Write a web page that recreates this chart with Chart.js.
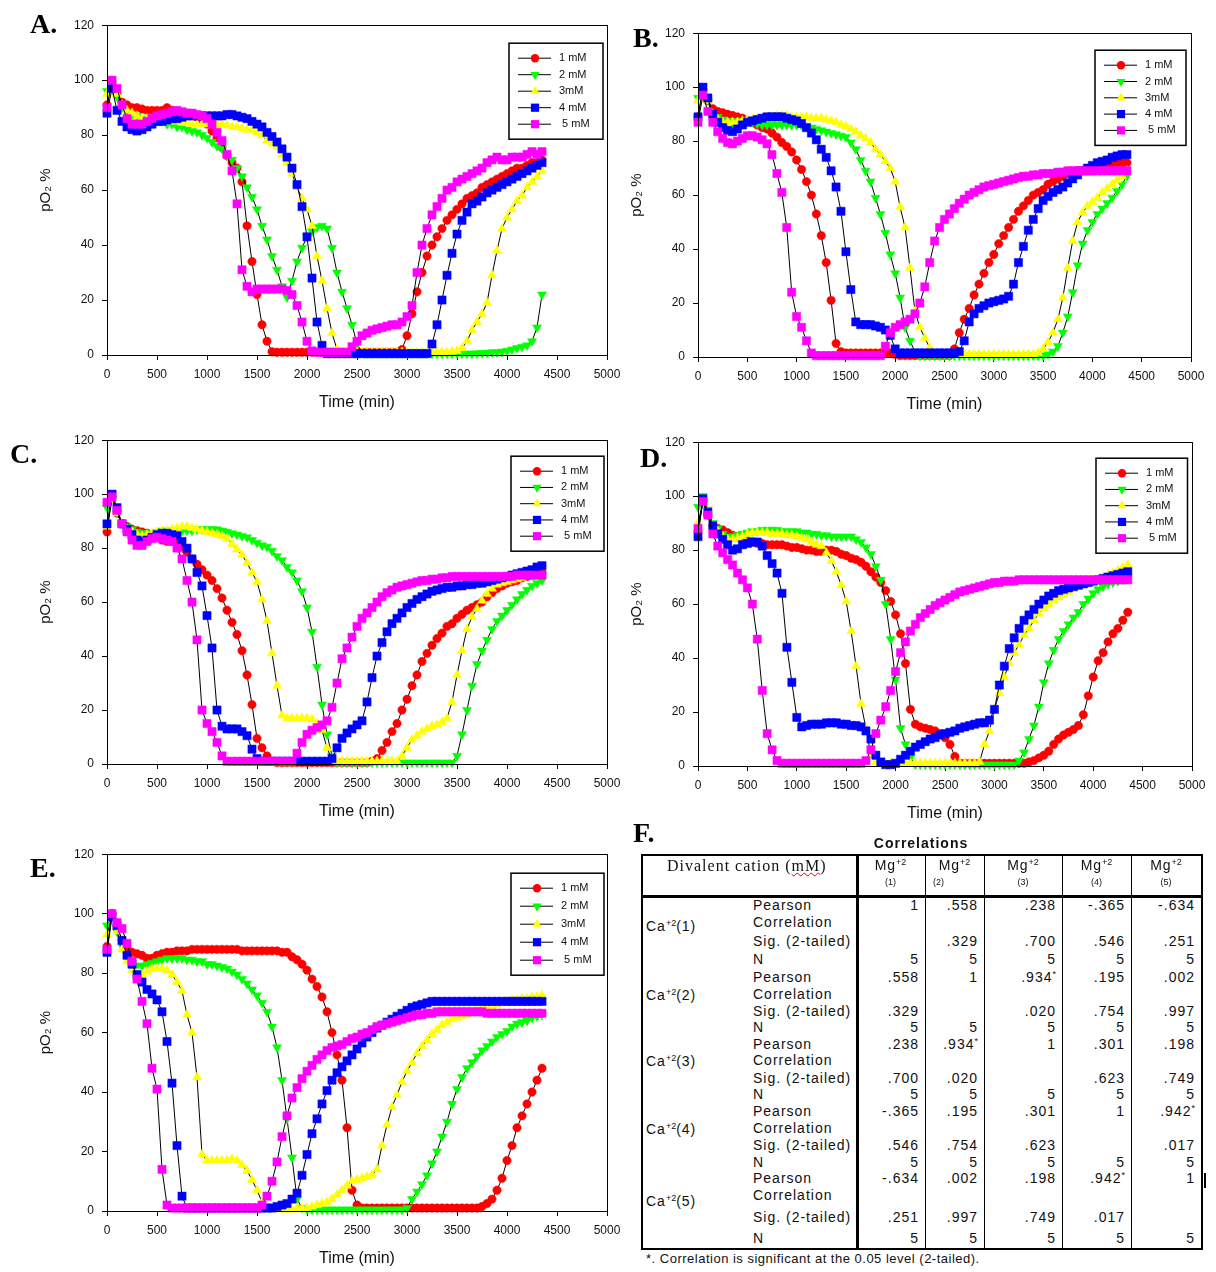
<!DOCTYPE html>
<html>
<head>
<meta charset="utf-8">
<title>pO2 time courses and correlations</title>
<script src="https://cdn.jsdelivr.net/npm/chart.js@4.4.0/dist/chart.umd.min.js"></script>
<style>
  body { margin: 0; background: #fff; width: 1216px; height: 1272px; position: relative; overflow: hidden;
         font-family: "Liberation Sans", Arial, sans-serif; color: #111; }
  canvas { position: absolute; }
  .tag { position: absolute; font: bold 28px "Liberation Serif", "Times New Roman", serif; line-height: 28px; color: #000; }
  .t { position: absolute; white-space: pre; font-size: 14px; line-height: 16px; letter-spacing: 1px; color: #111; }
  .t sup { font-size: 9px; vertical-align: 5px; line-height: 0; letter-spacing: 0; }
  .t.small { font-size: 9px; letter-spacing: 0; }
  .t.head { font: 16px "Liberation Serif", "Times New Roman", serif; letter-spacing: 1px; line-height: 16px; }
  .t.title { font-weight: bold; }
  .t.note { font-size: 13px; letter-spacing: 0.5px; }
  .ln { position: absolute; background: #000; }
</style>
</head>
<body>
<script>
// sampling times (min) shared by every series
const times = [
  0, 50, 100, 150, 200, 250, 300, 350, 400, 450,
  500, 550, 600, 650, 700, 750, 800, 850, 900, 950,
  1000, 1050, 1100, 1150, 1200, 1250, 1300, 1350, 1400, 1450,
  1500, 1550, 1600, 1650, 1700, 1750, 1800, 1850, 1900, 1950,
  2000, 2050, 2100, 2150, 2200, 2250, 2300, 2350, 2400, 2450,
  2500, 2550, 2600, 2650, 2700, 2750, 2800, 2850, 2900, 2950,
  3000, 3050, 3100, 3150, 3200, 3250, 3300, 3350, 3400, 3450,
  3500, 3550, 3600, 3650, 3700, 3750, 3800, 3850, 3900, 3950,
  4000, 4050, 4100, 4150, 4200, 4250, 4300, 4350
];

const seriesLabels = ['1 mM', '2 mM', '3mM', '4 mM', ' 5 mM'];

// ---- panel A: pO2 %
const a1mM = [
  91, 99, 95, 92, 91, 90, 90, 89.5, 89, 89,
  89, 89, 90, 89, 88.5, 88, 88, 87.5, 86.5, 85.5,
  84, 81.5, 79, 75.5, 72.5, 70, 68, 63, 47, 34,
  22, 11, 5, 1.2, 1, 1, 1, 1, 1, 1,
  1, 1, 1, 1, 1, 1, 1, 1, 1, 1,
  1, 1, 1, 1, 1, 1, 1, 1, 1, 2,
  7, 15, 23, 30, 36, 40, 43, 46, 49, 51,
  53, 55, 57, 58, 59, 61, 62, 63, 64, 65,
  66, 67, 68, 68, 69, 70, 70, 71
];
const a2mM = [
  96, 99, 94, 90, 88, 87, 87, 86, 86, 86,
  85, 85, 84, 84, 83, 83, 82, 81.5, 81, 80,
  79, 77.5, 76, 75, 72.5, 71, 68, 65, 61, 57.5,
  53, 47, 42, 36, 31, 25, 21, 27, 34, 39,
  43, 45, 46.5, 47, 46, 39, 30, 23, 17, 11,
  4, 1, 0.5, 0.5, 0.5, 0.5, 0.5, 0.5, 0.5, 0.5,
  0.5, 0.5, 0.5, 0.5, 0.5, 0.5, 0.5, 0.5, 0.5, 0.5,
  0.5, 0.5, 0.5, 0.5, 0.6, 0.7, 0.8, 1, 1, 1.2,
  1.5, 2, 2.5, 3, 3.5, 5, 10, 22
];
const a3mM = [
  95, 99, 95, 91, 89, 88, 87, 86, 86, 85.5,
  85, 85, 85, 85, 85, 84.5, 84.5, 84, 84, 84,
  84, 84, 84, 84, 83.5, 83, 83, 82.5, 82, 82,
  81, 80, 78, 77, 76, 73, 70, 66, 61, 57,
  53, 47, 36, 27, 17, 8, 2, 1, 1, 1,
  1, 1, 1, 1, 1, 1, 1, 1, 1, 1,
  1, 1, 1, 1, 1, 1, 1, 1, 1, 1.2,
  1.5, 2.5, 5, 9, 12, 15, 19, 29, 38, 46,
  50, 53, 56, 58, 61, 63, 65, 67
];
const a4mM = [
  88, 97, 89, 85, 83, 82, 81.5, 82, 83, 84,
  85, 85, 85.5, 86, 86, 86.5, 87, 87, 87, 87,
  87, 87, 87, 87, 87.5, 87.5, 87, 86.5, 86, 85,
  84, 83, 81, 79.5, 77.5, 75, 72, 68, 62, 54,
  43, 28, 12, 3.5, 0.5, 0.5, 0.5, 0.5, 0.5, 0.5,
  0.5, 0.5, 0.5, 0.5, 0.5, 0.5, 0.5, 0.5, 0.5, 0.5,
  0.5, 0.5, 0.5, 0.5, 0.5, 4, 11, 20, 29, 37,
  44, 49, 52, 55, 56, 57.5, 59, 60, 61, 62,
  63, 64, 65, 66, 67, 68, 69, 70
];
const a5mM = [
  90, 100, 97, 91, 86, 84, 84, 84, 85, 86,
  87, 87.5, 88, 88.5, 89, 88.5, 88, 88, 87.5, 87,
  86, 84, 81, 78, 73, 67, 55, 31, 25, 23,
  24, 24, 24, 24, 24, 24, 23.5, 22, 18, 12,
  5, 1.5, 1, 1, 1, 1, 1, 1, 1, 3,
  5, 7, 8, 9, 9.5, 10, 10.5, 11, 11, 12,
  14, 18, 30, 40, 46, 51, 54, 57, 60, 61,
  63, 64, 65, 66, 67, 68, 70, 71, 72, 71,
  71, 72, 72, 72, 73, 74, 73, 74
];

// ---- panel B
const b1mM = [
  89, 99, 95, 92, 91, 90.5, 90, 89.5, 89, 88.5,
  87.5, 87, 86, 85, 84.5, 83, 81.5, 79.5, 78, 76,
  73, 69.5, 65, 60, 53, 45, 35, 21, 5, 2,
  1.5, 1.5, 1.5, 1.5, 1.5, 1.5, 1.5, 1.5, 1.5, 1.5,
  1, 0.5, 0.5, 0.5, 0.5, 0.5, 0.5, 0.5, 0.5, 0.5,
  0.5, 0.5, 3, 9, 14, 18, 23, 27, 31, 35,
  38, 42, 45, 48, 51, 54, 56, 58, 60, 61,
  62, 64, 65, 66, 67, 68, 68, 69, 69, 69,
  69, 70, 70, 70, 71, 72, 72, 72
];
const b2mM = [
  96, 100, 95, 90, 89, 88, 87.5, 87, 87.5, 87.5,
  87.5, 87, 86.5, 86, 86, 86, 86, 86, 86, 86,
  86, 86, 85.5, 85, 84.5, 84, 83.5, 83, 82.5, 82,
  81.5, 79.5, 77, 73, 69, 65, 59, 53, 46, 38,
  31, 22, 11, 6, 2, 0.5, 0.5, 0.5, 0.5, 0.5,
  0.5, 0.5, 0.5, 0.5, 0.5, 0.5, 0.5, 0.5, 0.5, 0.5,
  0.5, 0.5, 0.5, 0.5, 0.5, 0.5, 0.5, 0.5, 0.5, 0.5,
  0.5, 1, 2, 4, 9, 15, 24, 34, 42, 47,
  50, 53, 55, 57, 59, 61.5, 64, 67
];
const b3mM = [
  95, 99, 95, 90, 88, 87, 87, 87, 87, 87.5,
  88, 88, 88.5, 88.5, 89, 89, 89.5, 89.5, 89.5, 89,
  89, 89, 89, 88.5, 88.5, 88.5, 88, 87.5, 87, 86,
  85.5, 84.5, 83.5, 82, 81, 79.5, 77, 75, 72.5, 70,
  65, 55.5, 48, 33, 17, 11, 7, 3.5, 1, 1,
  1, 1, 1, 1, 1, 1, 1, 1, 1, 1,
  1, 1, 1, 1, 1, 1, 1, 1, 1, 1.5,
  3, 5.5, 9, 14, 22, 33, 43, 50, 53.5, 56,
  57.5, 59, 61, 62.5, 64, 65.5, 67, 69
];
const b4mM = [
  89, 100, 96, 90, 87, 85, 84, 83.5, 84.5, 86,
  87, 87.5, 88, 88.5, 89, 89, 89, 89, 88.5, 88,
  87.5, 86.5, 85, 83, 80.5, 77, 74, 69, 63, 54,
  39, 25, 13, 12, 12, 12, 11.5, 11, 10, 8,
  3, 1.5, 1.5, 1.5, 1.5, 1.5, 1.5, 1.5, 1.5, 1.5,
  1.5, 1.5, 1.5, 2, 6, 13, 16, 18, 19, 20,
  20.5, 21, 21.5, 22.5, 27, 35, 41, 47, 51, 55,
  58, 59.5, 61, 62, 63, 64.5, 66, 67.5, 69, 70,
  71, 72, 72.5, 73, 74, 74.5, 75, 75
];
const b5mM = [
  87, 97, 91, 87, 83.5, 81, 79.5, 79, 80, 81,
  82, 82, 81.5, 80.5, 79, 75, 68, 61, 48, 24,
  15, 11, 6, 1.5, 0.5, 0.5, 0.5, 0.5, 0.5, 0.5,
  0.5, 0.5, 0.5, 0.5, 0.5, 0.5, 0.5, 0.5, 4, 9,
  11, 12, 13, 14, 16, 20, 26, 35, 43, 48,
  51, 53, 55, 57, 58.5, 60, 61, 62, 63, 63.5,
  64, 64.5, 65, 65.5, 66, 66.5, 67, 67, 67.5, 67.5,
  68, 68, 68, 68.5, 68.5, 69, 69, 69, 69, 69,
  69, 69, 69, 69, 69, 69, 69, 69
];

// ---- panel C
const c1mM = [
  86, 99, 93, 89, 88, 87, 86.5, 86, 85.5, 85,
  84, 83, 82.5, 82.5, 82, 80.5, 78.5, 76, 74, 72,
  70, 68, 65, 61.5, 57, 52.5, 48, 42, 33, 22,
  9.5, 6, 3, 1, 0.5, 0.5, 0.5, 0.5, 0.5, 0.5,
  0.5, 0.5, 0.5, 0.5, 0.5, 0.5, 0.5, 0.5, 0.5, 0.5,
  0.5, 0.5, 0.5, 1, 2, 5, 8, 12, 15, 20,
  24, 29, 33, 38, 41, 44, 46.5, 48.5, 51, 52,
  54, 55.5, 57, 58, 59, 60, 62, 63.5, 65, 66,
  67, 67.5, 68, 69, 69.5, 70, 70.5, 71
];
const c2mM = [
  95, 100, 93, 89, 88, 87, 86, 85.5, 85.5, 85.5,
  86, 86.5, 86.5, 86.5, 86.5, 86.5, 86.5, 86.5, 87, 87,
  87, 87, 87, 86.5, 86, 85.5, 85, 84.5, 84, 83,
  82, 81, 80.5, 79, 77, 75.5, 73, 71, 68, 64,
  58, 49, 36, 22, 11, 3, 0.5, 0.5, 0.5, 0.5,
  0.5, 0.5, 0.5, 0.5, 0.5, 0.5, 0.5, 0.5, 0.5, 0.5,
  0.5, 0.5, 0.5, 0.5, 0.5, 0.5, 0.5, 0.5, 0.5, 0.5,
  3, 11, 20, 29, 37, 42, 46, 50, 53, 55,
  57, 59, 61, 63, 64.5, 66, 67, 68
];
const c3mM = [
  88, 98, 93, 89, 87, 86, 85, 84.5, 85, 85.5,
  86, 86.5, 86.5, 87, 87.5, 88, 88, 87.5, 87, 86.5,
  86, 85.5, 85, 84.5, 83.5, 81.5, 79.5, 77.5, 74.5, 71,
  67.5, 61, 53, 41, 29, 18, 17, 17, 17, 17,
  17, 16.5, 15, 12.5, 6, 1.5, 1, 1, 1, 1,
  1, 1, 1, 1, 1, 1, 1, 1, 1, 3,
  6, 9, 10.5, 12, 13, 14, 14.5, 15.5, 17, 23,
  33, 42, 50, 54.5, 57.5, 60.5, 63, 65, 66.5, 67,
  67.5, 68, 68.5, 69, 70, 71, 72, 73
];
const c4mM = [
  89, 100, 95, 89, 87, 85, 83, 82.5, 83, 84,
  85, 85.5, 85.5, 85, 84.5, 82.5, 80, 76, 71, 66,
  55, 43, 20, 14, 13, 13, 13, 12, 10.5, 5.5,
  2, 1, 1, 1, 1, 1, 1, 1, 1, 1,
  1, 1, 1, 1, 1, 2, 6, 9.5, 11.5, 13,
  14.5, 16, 23, 32, 40, 45, 49, 52, 54, 56,
  58, 59.5, 61, 62, 63, 64, 64.5, 65, 65.5, 65.5,
  66, 66, 66.5, 66.5, 67, 67, 67.5, 68, 68.5, 69,
  69.5, 70, 70.5, 71, 71.5, 72, 73, 73.5
];
const c5mM = [
  97, 99, 94, 89, 86, 83, 81, 81, 82.5, 83.5,
  84, 83.5, 83, 82.5, 80, 76, 68, 60, 46, 20,
  15, 12, 8, 3, 1, 1, 1, 1, 1, 1,
  1, 1, 1, 1, 1, 1, 1, 1, 4, 8,
  11, 12.5, 13.5, 14.5, 16, 21, 30, 39, 43, 47,
  51, 54, 56, 58, 60, 62, 63.5, 64.5, 65.5, 66,
  66.5, 67, 67.5, 68, 68, 68.5, 68.5, 69, 69, 69.5,
  69.5, 69.5, 69.5, 69.5, 69.5, 69.5, 69.5, 69.5, 69.5, 69.5,
  69.5, 69.5, 70, 70, 70, 70, 70, 70
];

// ---- panel D
const d1mM = [
  87, 98, 93, 89, 88, 87.5, 86.5, 85.5, 85, 84,
  83.5, 83, 82.5, 82.5, 82, 82, 82, 82, 81.5, 81,
  81, 80.5, 80, 80, 79.5, 79.5, 80, 80, 79.5, 78.5,
  78, 77, 76.5, 75.5, 74, 72, 70, 68, 65, 61,
  56, 49, 38, 21, 15.5, 14.5, 14, 13.5, 13, 12,
  10.5, 8, 3.5, 1, 1, 1, 1, 1, 1, 1,
  1, 1, 1, 1, 1, 1, 1, 1.5, 2, 3,
  4, 5.5, 8, 10, 11.5, 12.5, 13.5, 15, 19, 26,
  33, 39, 42, 46, 49, 51, 54, 57
];
const d2mM = [
  96, 100, 95, 90, 88, 86, 85, 85, 85.5, 86,
  86.5, 87, 87, 87.5, 87.5, 87.5, 87.5, 87, 87, 87,
  87, 86.5, 86.5, 86, 86, 85.5, 85.5, 85, 85, 85,
  85, 85, 84, 83, 81, 78.5, 74, 69, 60, 47,
  32, 14, 8, 3, 0.5, 0.5, 0.5, 0.5, 0.5, 0.5,
  0.5, 0.5, 0.5, 0.5, 0.5, 0.5, 0.5, 0.5, 0.5, 0.5,
  0.5, 0.5, 0.5, 0.5, 0.5, 2, 5, 10, 15, 22,
  31, 38, 43, 47, 50, 52.5, 55, 57, 60, 62,
  64, 65.5, 66.5, 67.5, 68, 68.5, 69, 69.5
];
const d3mM = [
  90, 98, 93, 89, 87, 85, 84, 84, 84.5, 85,
  86, 86.5, 86.5, 86.5, 86.5, 86, 86, 86, 85.5, 85.5,
  85, 84.5, 84, 83, 82, 81.5, 79, 76, 72, 67,
  61, 50, 37, 23, 14, 4, 1.5, 1, 1, 1,
  1, 1, 1, 1, 1, 1, 1, 1, 1, 1,
  1, 1, 1, 1, 1, 1, 1, 1.5, 8, 13,
  21, 27, 33, 38, 42, 45, 48.5, 51, 54, 56.5,
  58.5, 60, 61.5, 62.5, 63.5, 64.5, 65.5, 66.5, 67, 68,
  68.5, 69, 70, 71, 71.5, 72.5, 73.5, 74.5
];
const d4mM = [
  85, 99, 94, 89, 86, 84, 82, 80, 80.5, 82,
  82.5, 83, 83, 81.5, 78, 75, 71.5, 64, 44, 31,
  18, 14.5, 15, 15.5, 15.5, 15.5, 16, 16, 16, 15.5,
  15.5, 15, 15, 14.5, 13, 10, 4, 1.5, 0.5, 0.5,
  1, 2.5, 4, 5.5, 7, 8, 9, 10, 10.5, 11.5,
  12, 12.5, 13, 14, 14.5, 15, 15.5, 16, 16, 17,
  21, 30, 37, 43.5, 47.5, 51, 54, 56, 58, 60,
  61.5, 63, 64, 65, 65.5, 66, 66.5, 67, 67.5, 68,
  68.5, 69, 69.5, 70, 70.5, 71, 71.5, 72
];
const d5mM = [
  88, 98, 93, 86, 81.5, 79, 76.5, 74.5, 71.5, 69,
  66, 60, 47, 28, 12, 6, 2, 1, 1, 1,
  1, 1, 1, 1, 1, 1, 1, 1, 1, 1,
  1, 1, 1, 1, 2, 6, 12, 17, 22, 28,
  35, 42, 46, 50, 52.5, 55, 56.5, 58, 59.5, 60.5,
  61.5, 62.5, 63.5, 64.5, 65, 65.5, 66, 66.5, 67, 67.5,
  68, 68, 68.5, 68.5, 68.5, 69, 69, 69, 69, 69,
  69, 69, 69, 69, 69, 69, 69, 69, 69, 69,
  69, 69, 69, 69, 69, 69, 69, 69
];

// ---- panel E
const e1mM = [
  89, 100, 96, 91, 88, 87, 86.5, 86, 85, 85,
  86, 86.5, 87, 87, 87.5, 87.5, 87.5, 88, 88, 88,
  88, 88, 88, 88, 88, 88, 88, 87.5, 87.5, 87.5,
  87.5, 87.5, 87.5, 87.5, 87.5, 87, 87, 85.5, 84.5, 83,
  81, 78, 75.5, 72, 67, 60, 52.5, 44, 28, 7,
  2, 1, 1, 1, 1, 1, 1, 1, 1, 1,
  1, 1, 1, 1, 1, 1, 1, 1, 1, 1,
  1, 1, 1, 1, 1, 1.5, 2.5, 4, 7, 11,
  17, 22, 28, 32, 36, 40, 44, 48
];
const e2mM = [
  96, 99, 94, 89, 86, 83.5, 82.5, 82.5, 83, 83.5,
  84, 84.5, 85, 85, 85, 85, 84.5, 84.5, 84, 84,
  83, 83, 82.5, 82, 81.5, 80.5, 79.5, 78, 76.5, 74.5,
  72.5, 70, 67, 62, 55, 44, 31, 18, 4, 1,
  0.5, 0.5, 0.5, 0.5, 0.5, 0.5, 0.5, 0.5, 0.5, 0.5,
  0.5, 0.5, 0.5, 0.5, 0.5, 0.5, 0.5, 0.5, 0.5, 0.5,
  1, 4, 6.5, 9, 12, 16, 20, 25, 30, 36,
  41, 45, 48, 50, 52, 54, 55.5, 57, 58.5, 59.5,
  60.5, 62, 63, 63.5, 64, 65, 65.5, 66
];
const e3mM = [
  93, 99, 94, 88, 84, 81, 80, 79.5, 80.5, 81.5,
  81.5, 81.5, 81, 79.5, 77, 74, 66, 60, 45, 19,
  17, 17, 17, 17, 17, 17.5, 17, 15.5, 13.5, 10.5,
  7, 3, 1, 0.5, 0.5, 0.5, 0.5, 0.5, 1, 1,
  1, 1.5, 2, 2.5, 3, 4, 5.5, 7, 8.5, 10,
  10.5, 11, 11.5, 12, 14, 22, 29, 35, 39, 43.5,
  47, 50, 53, 55.5, 57.5, 59.5, 61, 62.5, 63.5, 64.5,
  65, 65.5, 66, 66.5, 67.5, 68, 68.5, 69, 69.5, 70,
  70.5, 71, 71, 71.5, 71.5, 72, 72, 72.5
];
const e4mM = [
  87, 99, 96, 91, 86, 83, 79.5, 77, 74.5, 73,
  71, 67, 57, 43, 22, 5, 1, 1, 1, 1,
  1, 1, 1, 1, 1, 1, 1, 1, 1, 1,
  1, 1, 1, 1, 1.5, 2, 2.5, 4, 6, 12,
  19, 26, 31, 36, 40.5, 44, 46.5, 48.5, 50.5, 52.5,
  54.5, 56.5, 58.5, 60, 61.5, 62.5, 63.5, 64.5, 65.5, 66.5,
  67.5, 68.5, 69, 69.5, 70, 70.5, 70.5, 70.5, 70.5, 70.5,
  70.5, 70.5, 70.5, 70.5, 70.5, 70.5, 70.5, 70.5, 70.5, 70.5,
  70.5, 70.5, 70.5, 70.5, 70.5, 70.5, 70.5, 70.5
];
const e5mM = [
  88, 100, 97, 95, 90, 84, 78, 70.5, 63, 48,
  41, 14, 2, 1, 1, 1, 1, 1, 1, 1,
  1, 1, 1, 1, 1, 1, 1, 1, 1, 1,
  1, 2, 5, 10, 16.5, 25, 32, 38, 41.5, 44.5,
  47, 49, 51, 52.5, 54, 55, 55.5, 56, 57, 58,
  58.5, 59.5, 60, 61, 62, 62.5, 63, 63.5, 64, 64.5,
  65, 65.5, 66, 66, 66.5, 66.5, 67, 67, 67, 67,
  67, 67, 67, 67, 67, 67, 66.5, 66.5, 66.5, 66.5,
  66.5, 66.5, 66.5, 66.5, 66.5, 66.5, 66.5, 66.5
];

// ---- panel F: correlation table (Ca+2 rows against Mg+2 columns)
const groupNames = ['(1)', '(2)', '(3)', '(4)', '(5)'];
const statNames = ['Pearson', 'Correlation', 'Sig. (2-tailed)', 'N'];
const pearsonR = [
  ['1', '.558', '.238', '-.365', '-.634'],
  ['.558', '1', '.934*', '.195', '.002'],
  ['.238', '.934*', '1', '.301', '.198'],
  ['-.365', '.195', '.301', '1', '.942*'],
  ['-.634', '.002', '.198', '.942*', '1']
];
const sigTwoTailed = [
  ['', '.329', '.700', '.546', '.251'],
  ['.329', '', '.020', '.754', '.997'],
  ['.700', '.020', '', '.623', '.749'],
  ['.546', '.754', '.623', '', '.017'],
  ['.251', '.997', '.749', '.017', '']
];
const nCases = [
  [5, 5, 5, 5, 5],
  [5, 5, 5, 5, 5],
  [5, 5, 5, 5, 5],
  [5, 5, 5, 5, 5],
  [5, 5, 5, 5, 5]
];

const FONT = '"Liberation Sans", Arial, sans-serif';
Chart.defaults.font.family = FONT;
Chart.defaults.color = '#111';

const markerStyles = [
  { color: '#ff0000', style: 'circle', radius: 4.2, rotation: 0 },
  { color: '#00ff00', style: 'triangle', radius: 5.2, rotation: 180 },
  { color: '#ffff00', style: 'triangle', radius: 5.2, rotation: 0 },
  { color: '#0000ff', style: 'rect', radius: 5.8, rotation: 0 },
  { color: '#ff00ff', style: 'rect', radius: 5.8, rotation: 0 }
];

function drawMarker(ctx, m, x, y) {
  ctx.fillStyle = m.color;
  ctx.beginPath();
  if (m.style === 'circle') {
    ctx.arc(x, y, m.radius, 0, Math.PI * 2);
  } else if (m.style === 'rect') {
    const s = m.radius * Math.SQRT1_2;
    ctx.rect(x - s, y - s, 2 * s, 2 * s);
  } else {
    const r = m.radius, d = m.rotation ? -1 : 1;
    ctx.moveTo(x, y - d * r);
    ctx.lineTo(x + r * 0.866, y + d * r / 2);
    ctx.lineTo(x - r * 0.866, y + d * r / 2);
    ctx.closePath();
  }
  ctx.fill();
}

// closed plot frame plus the boxed key in the upper right corner
const frameAndKey = {
  id: 'frameAndKey',
  afterDraw(chart, args, opts) {
    const { ctx, chartArea: a } = chart;
    ctx.save();
    ctx.strokeStyle = '#000';
    ctx.lineWidth = 1;
    ctx.strokeRect(Math.round(a.left) + 0.5, Math.round(a.top) + 0.5,
                   Math.round(a.right - a.left), Math.round(a.bottom - a.top));
    const k = opts.key;
    const bx = a.right - k.dx, by = a.top + k.dy;
    ctx.lineWidth = 1.5;
    ctx.strokeRect(bx, by, k.w, 30 + 4 * k.s);
    ctx.font = '11px ' + FONT;
    ctx.textBaseline = 'middle';
    chart.data.datasets.forEach((ds, i) => {
      const y = by + 15 + i * k.s;
      ctx.strokeStyle = '#000';
      ctx.lineWidth = 1;
      ctx.beginPath();
      ctx.moveTo(bx + 9, y);
      ctx.lineTo(bx + 42, y);
      ctx.stroke();
      drawMarker(ctx, markerStyles[i], bx + 26, y);
      ctx.fillStyle = '#111';
      ctx.fillText(ds.label, bx + 50, y);
    });
    ctx.restore();
  }
};

const panels = [
  { tag: 'A', area: [107, 20, 607, 355], series: [a1mM, a2mM, a3mM, a4mM, a5mM], key: { dx: 98, dy: 18, w: 94, s: 16.5 } },
  { tag: 'B', area: [698, 28, 1191, 357], series: [b1mM, b2mM, b3mM, b4mM, b5mM], key: { dx: 96, dy: 17, w: 91, s: 16.3 } },
  { tag: 'C', area: [107, 435, 607, 764], series: [c1mM, c2mM, c3mM, c4mM, c5mM], key: { dx: 96, dy: 16, w: 93, s: 16.25 } },
  { tag: 'D', area: [698, 437, 1192, 766], series: [d1mM, d2mM, d3mM, d4mM, d5mM], key: { dx: 96, dy: 16, w: 91.5, s: 16.25 } },
  { tag: 'E', area: [107, 849, 607, 1211], series: [e1mM, e2mM, e3mM, e4mM, e5mM], key: { dx: 96, dy: 19, w: 93, s: 18 } }
];

const tagPos = { A: [30, 10], B: [633, 24], C: [10, 440], D: [640, 444], E: [30, 854], F: [633, 819] };

function makePanel(p) {
  const padL = 74, padT = 10, padR = 22, padB = 61;
  const [l, t, r, b] = p.area;
  const w = r - l + padL + padR, h = b - t + padT + padB;
  const c = document.createElement('canvas');
  c.width = w; c.height = h;
  c.style.left = (l - padL) + 'px';
  c.style.top = (t - padT) + 'px';
  c.style.width = w + 'px';
  c.style.height = h + 'px';
  document.body.appendChild(c);

  const datasets = p.series.map((vals, i) => {
    const m = markerStyles[i];
    return {
      label: seriesLabels[i],
      data: times.map((x, j) => ({ x, y: vals[j] })),
      borderColor: '#000',
      borderWidth: 1,
      pointStyle: m.style,
      pointRadius: m.radius,
      pointRotation: m.rotation,
      pointBackgroundColor: m.color,
      pointBorderColor: m.color,
      pointBorderWidth: 0.5,
      tension: 0,
      clip: false,
      order: 4 - i
    };
  });

  const tickFont = { size: 12, family: FONT };
  new Chart(c, {
    type: 'line',
    data: { datasets },
    plugins: [frameAndKey],
    options: {
      responsive: false,
      animation: false,
      parsing: false,
      layout: { padding: { left: 0, top: padT, right: padR, bottom: 0 } },
      plugins: {
        legend: { display: false },
        tooltip: { enabled: false },
        frameAndKey: { key: p.key }
      },
      scales: {
        x: {
          type: 'linear', min: 0, max: 5000,
          afterFit: s => { s.height = padB; },
          ticks: { stepSize: 500, autoSkip: false, maxRotation: 0, padding: 7, color: '#111', font: tickFont, callback: v => String(v) },
          grid: { drawOnChartArea: false, drawTicks: true, tickLength: 5, color: '#000' },
          border: { color: '#000', width: 1 },
          title: { display: true, text: 'Time (min)', color: '#111', font: { size: 16, family: FONT } }
        },
        y: {
          min: 0, max: 120,
          afterFit: s => { s.width = padL; },
          ticks: { stepSize: 20, padding: 8, color: '#111', font: tickFont, callback: v => String(v) },
          grid: { drawOnChartArea: false, drawTicks: true, tickLength: 5, color: '#000' },
          border: { color: '#000', width: 1 },
          title: { display: true, text: 'pO\u2082 %', color: '#111', font: { size: 15, family: FONT } }
        }
      }
    }
  });
}

panels.forEach(makePanel);

Object.keys(tagPos).forEach(k => {
  const d = document.createElement('div');
  d.className = 'tag';
  d.textContent = k + '.';
  d.style.left = tagPos[k][0] + 'px';
  d.style.top = tagPos[k][1] + 'px';
  document.body.appendChild(d);
});

// ---- table layout
const colEdges = [641, 856, 925, 984, 1062, 1131, 1201];
const tableTop = 854, tableBottom = 1248, headLine = 895;
const blockLines = [
  [905, 921.7, 940.7, 959.3],
  [977.3, 994, 1010.7, 1027.3],
  [1044, 1060, 1077.7, 1094.3],
  [1111, 1127.7, 1145, 1161.7],
  [1178.3, 1195, 1216.7, 1238.3]
];
const caY = [926, 995, 1061, 1128.7, 1200.7];

function text(html, x, y, align, cls) {
  const d = document.createElement('div');
  d.className = 't' + (cls ? ' ' + cls : '');
  d.innerHTML = html;
  d.style.top = (y - 8) + 'px';
  if (align === 'right') d.style.right = (1216 - x) + 'px';
  else if (align === 'center') { d.style.left = x + 'px'; d.style.transform = 'translateX(-50%)'; }
  else d.style.left = x + 'px';
  document.body.appendChild(d);
}

function rule(x, y, w, h) {
  const d = document.createElement('div');
  d.className = 'ln';
  d.style.left = x + 'px'; d.style.top = y + 'px';
  d.style.width = w + 'px'; d.style.height = h + 'px';
  document.body.appendChild(d);
}

const star = s => s.replace('*', '<sup>*</sup>');

text('Correlations', 921, 843, 'center', 'title');
text('Divalent cation (<span style="text-decoration: underline wavy #d00; text-decoration-thickness: 1px;">mM</span>)', 667, 866, 'left', 'head');

groupNames.forEach((g, j) => {
  const cx = (colEdges[j + 1] + colEdges[j + 2]) / 2;
  text('Mg<sup>+2</sup>', cx, 865, 'center');
  text(g, j === 1 ? cx - 16 : cx, 882, 'center', 'small');
});

groupNames.forEach((g, k) => {
  text('Ca<sup>+2</sup>' + g, 646, caY[k], 'left');
  statNames.forEach((name, r) => text(name, 753, blockLines[k][r], 'left'));
  for (let j = 0; j < 5; j++) {
    const rx = colEdges[j + 2] - 6;
    text(star(pearsonR[k][j]), rx, blockLines[k][0], 'right');
    if (sigTwoTailed[k][j]) text(sigTwoTailed[k][j], rx, blockLines[k][2], 'right');
    text(String(nCases[k][j]), rx, blockLines[k][3], 'right');
  }
});

text('*. Correlation is significant at the 0.05 level (2-tailed).', 646, 1259, 'left', 'note');

// borders
rule(colEdges[0], tableTop, colEdges[6] - colEdges[0] + 2, 2);
rule(colEdges[0], tableBottom, colEdges[6] - colEdges[0] + 2, 2);
rule(colEdges[0], headLine, colEdges[6] - colEdges[0] + 2, 3);
rule(colEdges[0], tableTop, 2, tableBottom - tableTop + 2);
rule(colEdges[6], tableTop, 2, tableBottom - tableTop + 2);
rule(colEdges[1], tableTop, 3, tableBottom - tableTop + 2);
for (let j = 2; j <= 5; j++) rule(colEdges[j], tableTop, 1, tableBottom - tableTop);
rule(1204, 1173, 2, 15);
</script>
</body>
</html>
